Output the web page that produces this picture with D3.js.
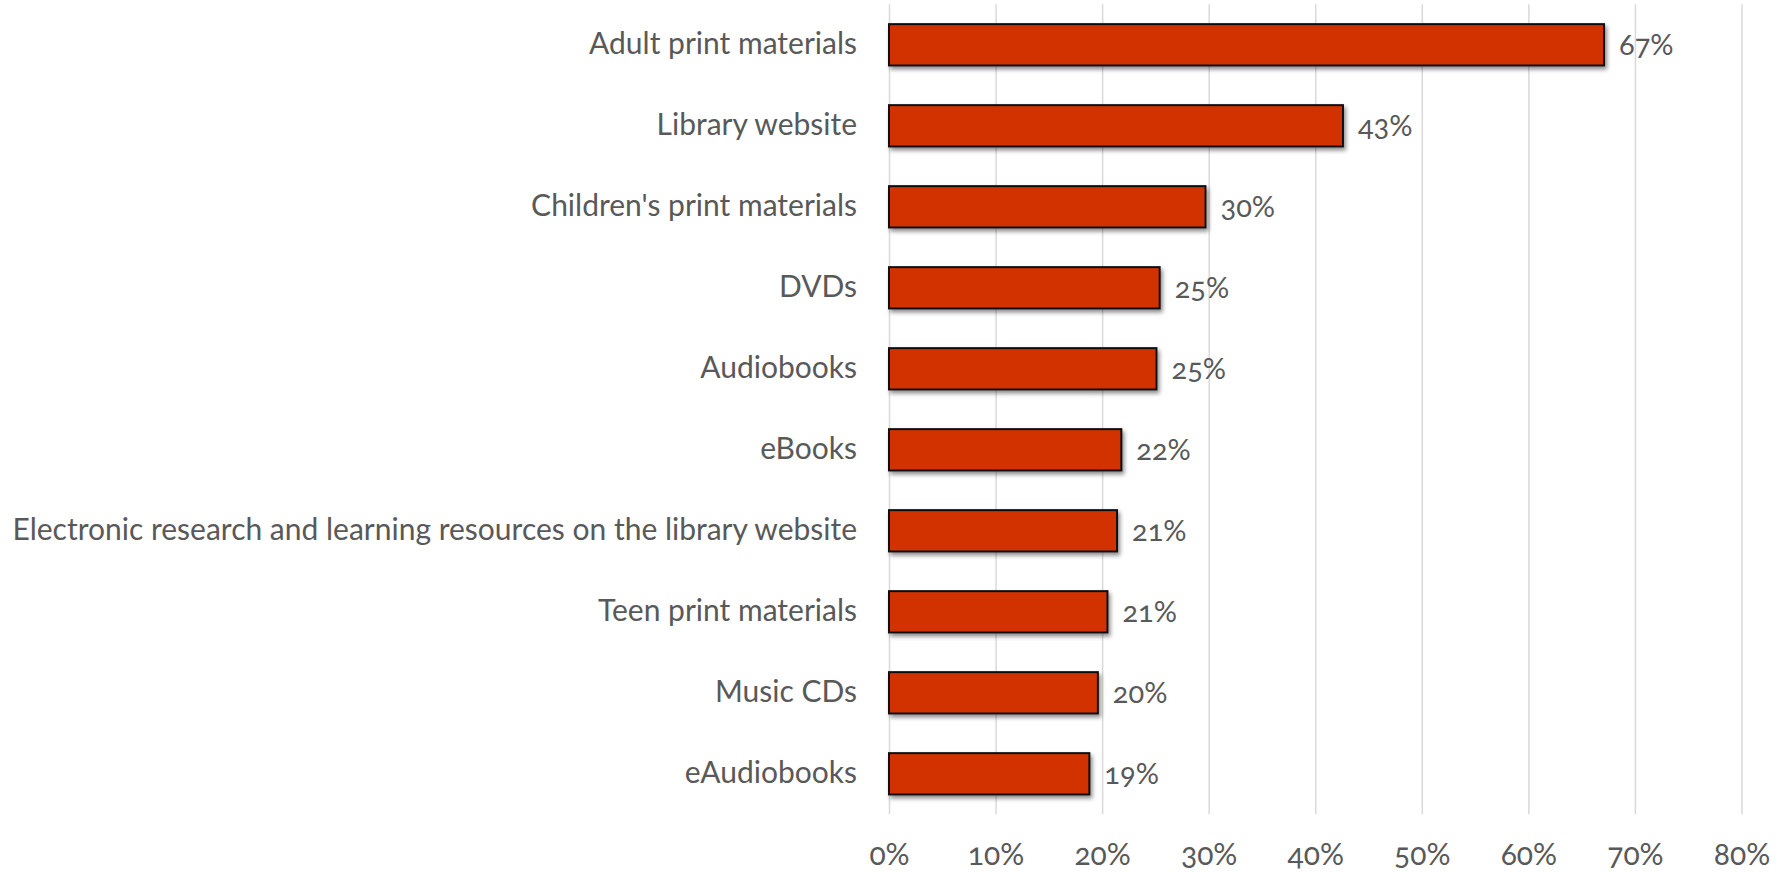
<!DOCTYPE html>
<html>
<head>
<meta charset="utf-8">
<script src="https://cdn.jsdelivr.net/npm/d3@7"></script>
<style>
  html, body { margin: 0; padding: 0; background: #ffffff; }
  svg { display: block; }
  text { font-family: Lato, "Noto Sans", "Open Sans", sans-serif; fill: #595959; font-variant-numeric: oldstyle-nums; }
</style>
</head>
<body>
<svg id="chart" width="1780" height="872"></svg>
<script>
// Share of respondents per library resource (fraction of 1)
const categories = [
  "Adult print materials",
  "Library website",
  "Children's print materials",
  "DVDs",
  "Audiobooks",
  "eBooks",
  "Electronic research and learning resources on the library website",
  "Teen print materials",
  "Music CDs",
  "eAudiobooks"
];
const values = [0.671, 0.426, 0.297, 0.254, 0.251, 0.218, 0.214, 0.205, 0.196, 0.188];
const tickValues = [0, 0.1, 0.2, 0.3, 0.4, 0.5, 0.6, 0.7, 0.8];

const rows = categories.map((c, i) => ({ category: c, value: values[i] }));

const svg = d3.select("#chart");
const plot = { left: 889, right: 1741.5, top: 4.3, bottom: 814.3 };

const x = d3.scaleLinear().domain([0, 0.8]).range([plot.left, plot.right]);
const y = d3.scaleBand().domain(categories).range([plot.top, plot.bottom])
  .paddingInner(0.49).paddingOuter(0.245);

// soft drop shadow under the bars
const defs = svg.append("defs");
const f = defs.append("filter").attr("id", "shadow")
  .attr("x", "-5%").attr("y", "-30%").attr("width", "115%").attr("height", "170%");
f.append("feDropShadow").attr("dx", 2).attr("dy", 3).attr("stdDeviation", 2.2)
  .attr("flood-color", "#000").attr("flood-opacity", 0.45);

// vertical gridlines
const grid = svg.append("g")
  .attr("transform", `translate(0,${plot.bottom})`)
  .call(d3.axisBottom(x).tickValues(tickValues).tickSize(-(plot.bottom - plot.top)).tickFormat(""));
grid.select(".domain").remove();
grid.selectAll(".tick line").attr("stroke", "#d9d9d9").attr("stroke-width", 1.5);

// tick labels along the bottom
const xAxis = svg.append("g")
  .attr("transform", `translate(0,${plot.bottom})`)
  .call(d3.axisBottom(x).tickValues(tickValues).tickSize(0).tickPadding(0).tickFormat(d3.format(".0%")));
xAxis.select(".domain").remove();
xAxis.selectAll(".tick text")
  .attr("y", 40).attr("dy", "0.35em")
  .style("font-size", "30px").style("fill", "#595959");

// category labels
const yAxis = svg.append("g")
  .attr("transform", `translate(${plot.left},0)`)
  .call(d3.axisLeft(y).tickSize(0).tickPadding(32));
yAxis.select(".domain").remove();
yAxis.selectAll(".tick text")
  .style("font-size", "30px").style("fill", "#595959");

// bars
svg.append("g").selectAll("rect").data(rows).join("rect")
  .attr("x", x(0))
  .attr("y", d => y(d.category))
  .attr("width", d => x(d.value) - x(0))
  .attr("height", y.bandwidth())
  .attr("fill", "#D23300")
  .attr("stroke", "#111")
  .attr("stroke-width", 2)
  .attr("filter", "url(#shadow)");

// value labels
svg.append("g").selectAll("text").data(rows).join("text")
  .attr("x", d => x(d.value) + 15)
  .attr("y", d => y(d.category) + y.bandwidth() / 2)
  .attr("dy", "0.35em")
  .style("font-size", "29px")
  .text(d => Math.round(d.value * 100) + "%");
</script>
</body>
</html>
